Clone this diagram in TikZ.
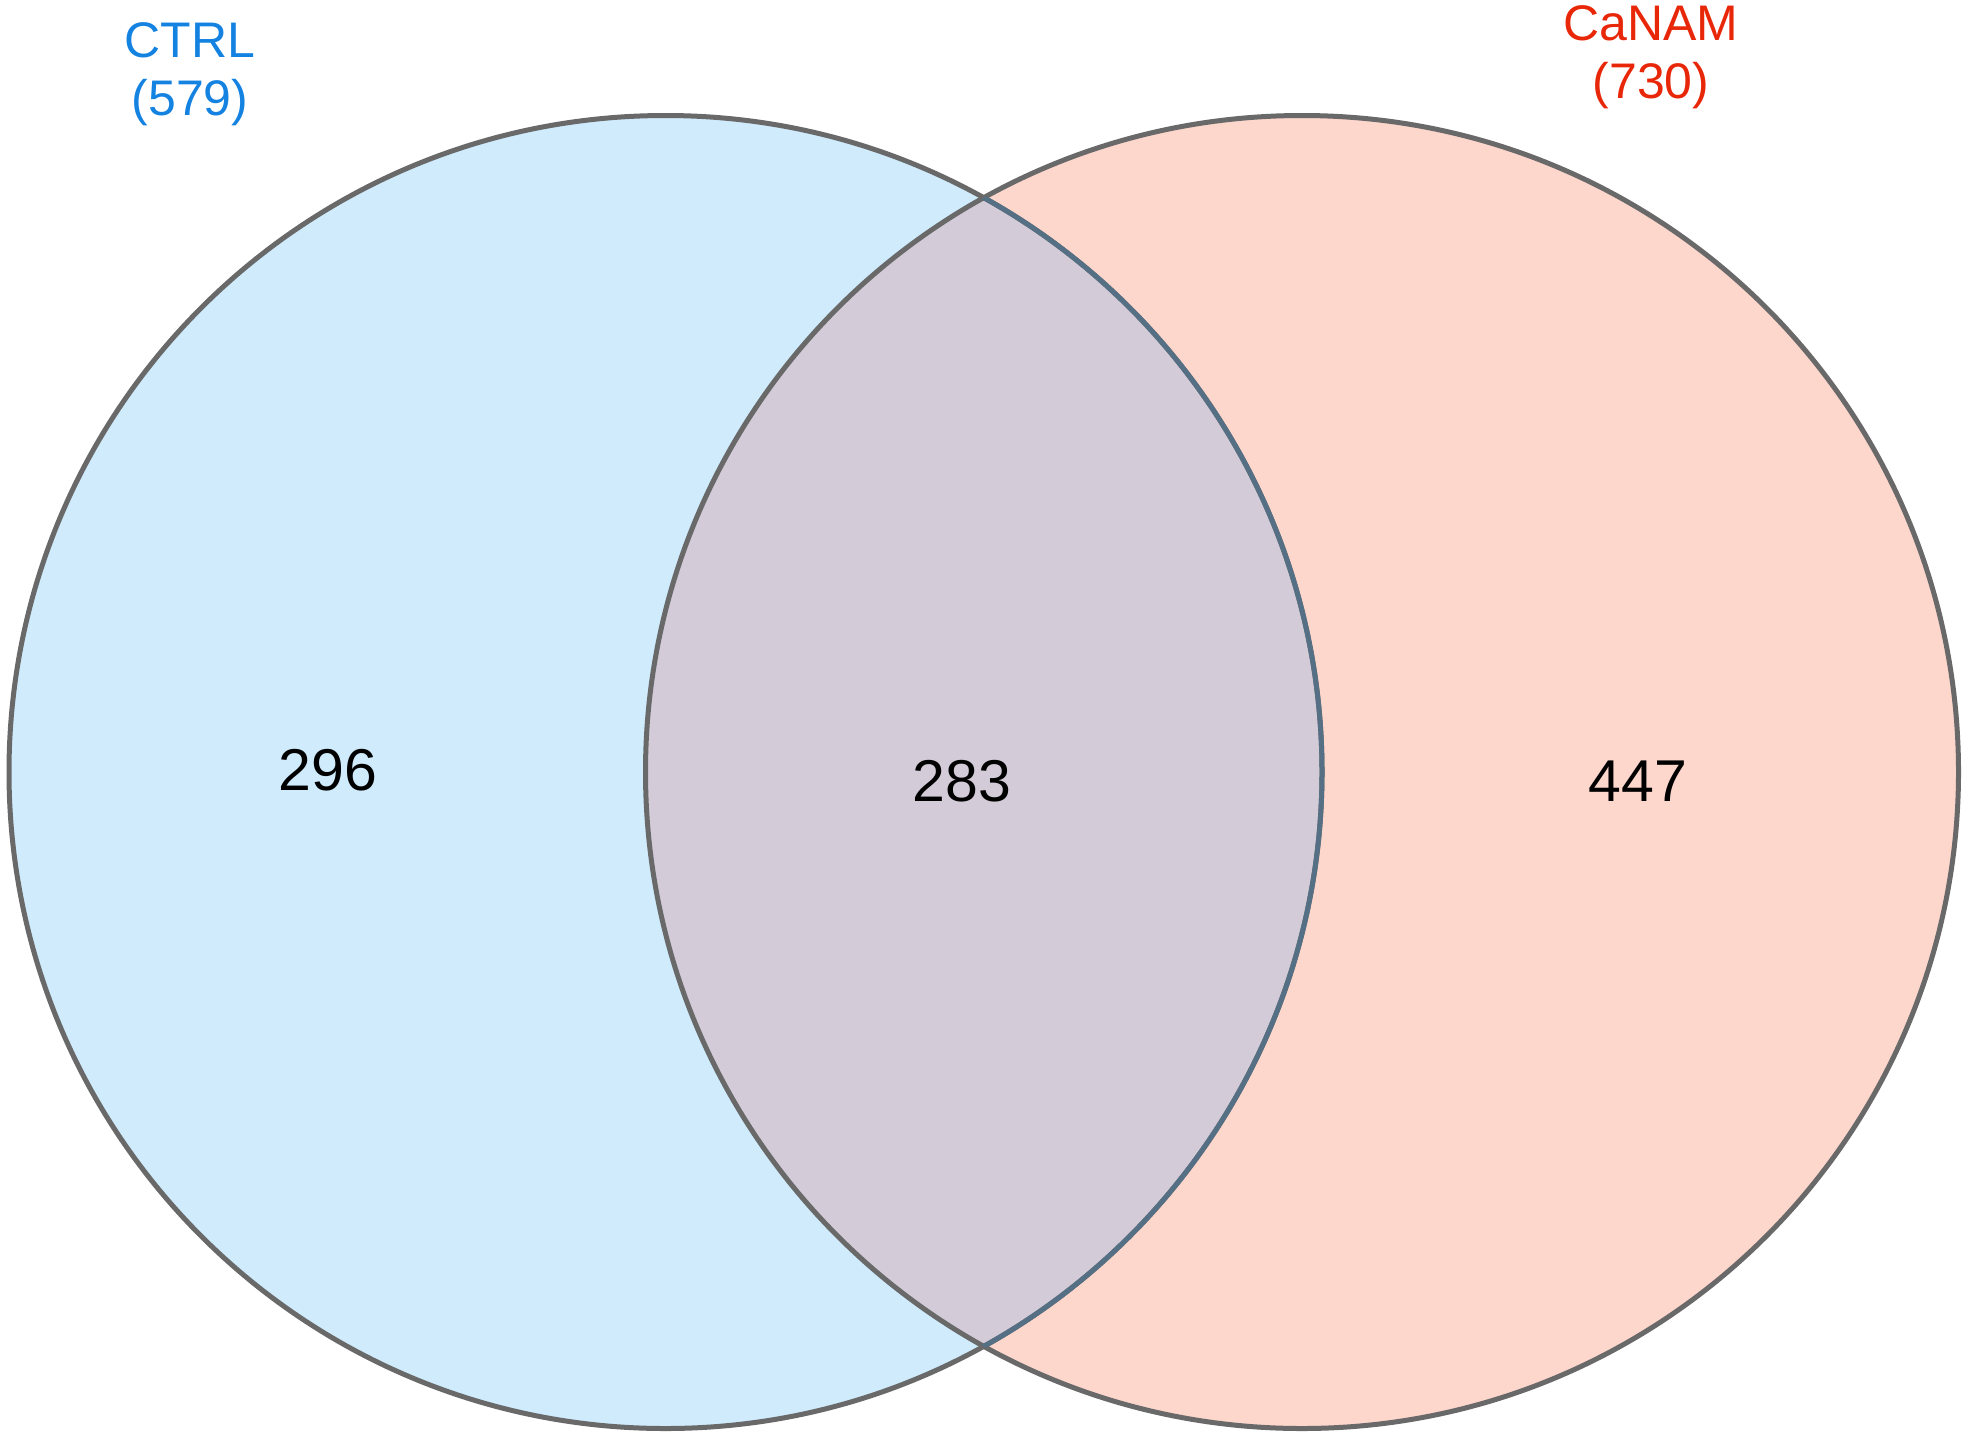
\documentclass[tikz,border=0pt]{standalone}
\usepackage{fontspec}
\setmainfont{Liberation Sans}
\definecolor{cblue}{RGB}{207,235,252}
\definecolor{cpink}{RGB}{253,214,204}
\definecolor{cmix}{RGB}{211,203,215}
\definecolor{cstroke}{RGB}{105,105,105}
\definecolor{cstrokeb}{RGB}{85,112,132}
\definecolor{lblue}{RGB}{20,130,225}
\definecolor{lred}{RGB}{232,38,8}
\begin{document}
\begin{tikzpicture}[x=1pt,y=-1pt,
  setline/.style={line width=5pt},
  lbl/.style={font=\fontsize{50}{58}\selectfont, align=center, inner sep=0pt, anchor=north},
  num/.style={font=\fontsize{59}{60}\selectfont, inner sep=0pt, text=black}]
\useasboundingbox (0,0) rectangle (1969,1436);
\coordinate (cl) at (665.5,772);
\coordinate (cr) at (1302,772);
% fills
\fill[cblue] (cl) circle[radius=656.5];
\fill[cpink] (cr) circle[radius=656.5];
\begin{scope}
  \clip (cl) circle[radius=656.5];
  \fill[cmix] (cr) circle[radius=656.5];
\end{scope}
% strokes
\draw[setline, cstroke] (cl) circle[radius=656.5];
\draw[setline, cstroke] (cr) circle[radius=656.5];
\begin{scope}
  \clip (cr) circle[radius=656.5];
  \draw[setline, cstrokeb] (cl) circle[radius=656.5];
\end{scope}
% labels
\node[lbl, text=lblue] (ctrl) at (190,22) {CTRL\\(579)};
\node[lbl, text=lred] (canam) at (1651,5) {CaNAM\\(730)};
\node[num] (a) at (328,770) {296};
\node[num] (ab) at (962,781) {283};
\node[num] (b) at (1638,781) {447};
\end{tikzpicture}
\end{document}
